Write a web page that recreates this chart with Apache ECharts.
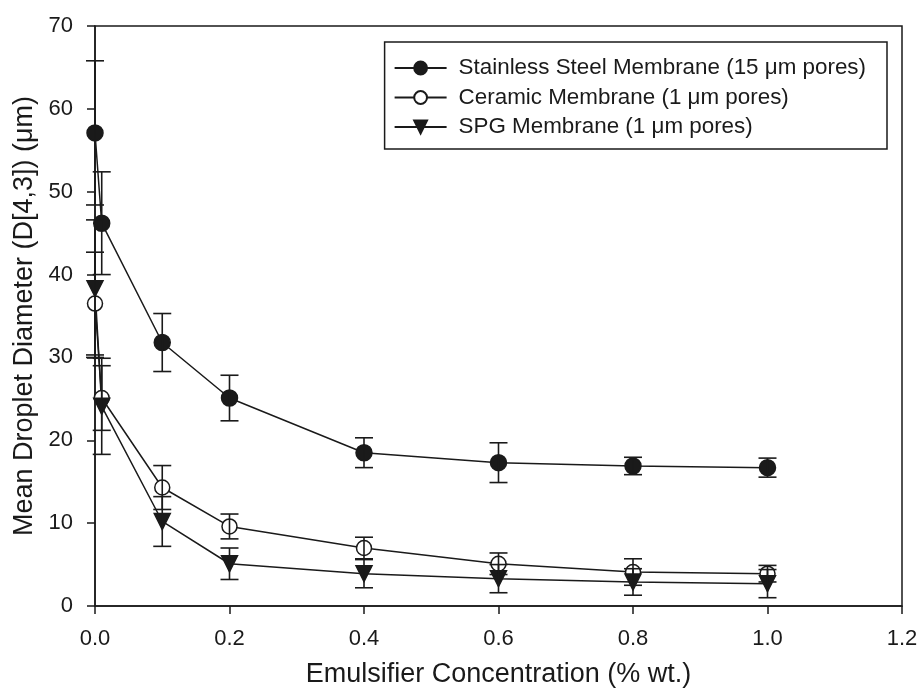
<!DOCTYPE html>
<html>
<head>
<meta charset="utf-8">
<script src="https://cdn.jsdelivr.net/npm/echarts@6/dist/echarts.min.js"></script>
<style>html,body{margin:0;padding:0;background:#fff}#c{width:920px;height:691px}</style>
</head>
<body>
<div id="c"></div>
<script>
const concentrations = [0, 0.01, 0.1, 0.2, 0.4, 0.6, 0.8, 1.0];
const steelMean = [57.1, 46.2, 31.8, 25.1, 18.5, 17.3, 16.9, 16.7];
const steelErr  = [8.7, 6.2, 3.5, 2.75, 1.8, 2.4, 1.05, 1.15];
const ceramicMean = [36.5, 25.1, 14.3, 9.6, 7.0, 5.1, 4.1, 3.9];
const ceramicErr  = [6.2, 3.9, 2.65, 1.5, 1.3, 1.3, 1.6, 1.0];
const spgMean = [38.3, 24.1, 10.2, 5.1, 3.9, 3.3, 2.9, 2.7];
const spgErr  = [8.3, 5.8, 3.0, 1.9, 1.7, 1.7, 1.6, 1.7];
const seriesNames = ['Stainless Steel Membrane (15 \u03bcm pores)', 'Ceramic Membrane (1 \u03bcm pores)', 'SPG Membrane (1 \u03bcm pores)'];
const xTitle = 'Emulsifier Concentration (% wt.)';
const yTitle = 'Mean Droplet Diameter (D[4,3]) (\u03bcm)';

const INK = '#1a1a1a';
const FONT = '"Liberation Sans", Arial, sans-serif';
const triDown = 'path://M0,0 L10,0 L5,9 Z';

function pts(means) { return concentrations.map((x, i) => [x, means[i]]); }
function errs(means, e) { return concentrations.map((x, i) => [x, means[i] - e[i], means[i] + e[i]]); }

function errRender(params, api) {
  const x = api.value(0), lo = api.value(1), hi = api.value(2);
  const a = api.coord([x, hi]), b = api.coord([x, lo]);
  const w = 9;
  const st = { stroke: INK, lineWidth: 1.6 };
  return {
    type: 'group',
    children: [
      { type: 'line', shape: { x1: a[0], y1: a[1], x2: b[0], y2: b[1] }, style: st },
      { type: 'line', shape: { x1: a[0] - w, y1: a[1], x2: a[0] + w, y2: a[1] }, style: st },
      { type: 'line', shape: { x1: b[0] - w, y1: b[1], x2: b[0] + w, y2: b[1] }, style: st }
    ]
  };
}

function lineSeries(name, means, symbol, fill, size) {
  return {
    name, type: 'line', data: pts(means), symbol, symbolSize: size,
    showAllSymbol: true,
    lineStyle: { color: INK, width: 1.5 },
    itemStyle: { color: fill, borderColor: INK, borderWidth: 1.5 },
    z: 3, animation: false
  };
}
function errSeries(means, e) {
  return { type: 'custom', renderItem: errRender, data: errs(means, e), z: 4, silent: true, animation: false,
           encode: { x: 0, y: [1, 2] } };
}

const chart = echarts.init(document.getElementById('c'), null, { renderer: 'canvas' });
chart.setOption({
  backgroundColor: '#fff',
  animation: false,
  grid: { left: 95, right: 18, top: 26, bottom: 85, show: true, borderColor: INK, borderWidth: 1.5, outerBoundsMode: 'none' },
  legend: {
    data: seriesNames,
    orient: 'vertical', right: 33, top: 42,
    itemWidth: 52, itemHeight: 16, itemGap: 7.5,
    padding: [15, 21, 11, 9],
    borderColor: INK, borderWidth: 1.5,
    textStyle: { fontFamily: FONT, fontSize: 22.4, color: INK, padding: [0, 0, 0, 7] }
  },
  xAxis: {
    type: 'value', min: 0, max: 1.2, interval: 0.2,
    name: xTitle, nameLocation: 'middle', nameGap: 55,
    nameTextStyle: { fontFamily: FONT, fontSize: 27, color: INK },
    axisLine: { show: true, lineStyle: { color: INK, width: 1.5 } },
    axisTick: { show: true, inside: false, length: 8, lineStyle: { color: INK, width: 1.5 } },
    axisLabel: { fontFamily: FONT, fontSize: 22, color: INK, margin: 22, formatter: v => v.toFixed(1) },
    splitLine: { show: false }
  },
  yAxis: {
    type: 'value', min: 0, max: 70, interval: 10,
    name: yTitle, nameLocation: 'middle', nameGap: 57,
    nameTextStyle: { fontFamily: FONT, fontSize: 27, color: INK },
    axisLine: { show: true, lineStyle: { color: INK, width: 1.5 } },
    axisTick: { show: true, inside: false, length: 8, lineStyle: { color: INK, width: 1.5 } },
    axisLabel: { fontFamily: FONT, fontSize: 22, color: INK, margin: 22 },
    splitLine: { show: false }
  },
  series: [
    lineSeries(seriesNames[0], steelMean, 'circle', INK, 16),
    lineSeries(seriesNames[1], ceramicMean, 'circle', '#fff', 15),
    lineSeries(seriesNames[2], spgMean, triDown, INK, 16),
    errSeries(steelMean, steelErr),
    errSeries(ceramicMean, ceramicErr),
    errSeries(spgMean, spgErr)
  ]
});
</script>
</body>
</html>
